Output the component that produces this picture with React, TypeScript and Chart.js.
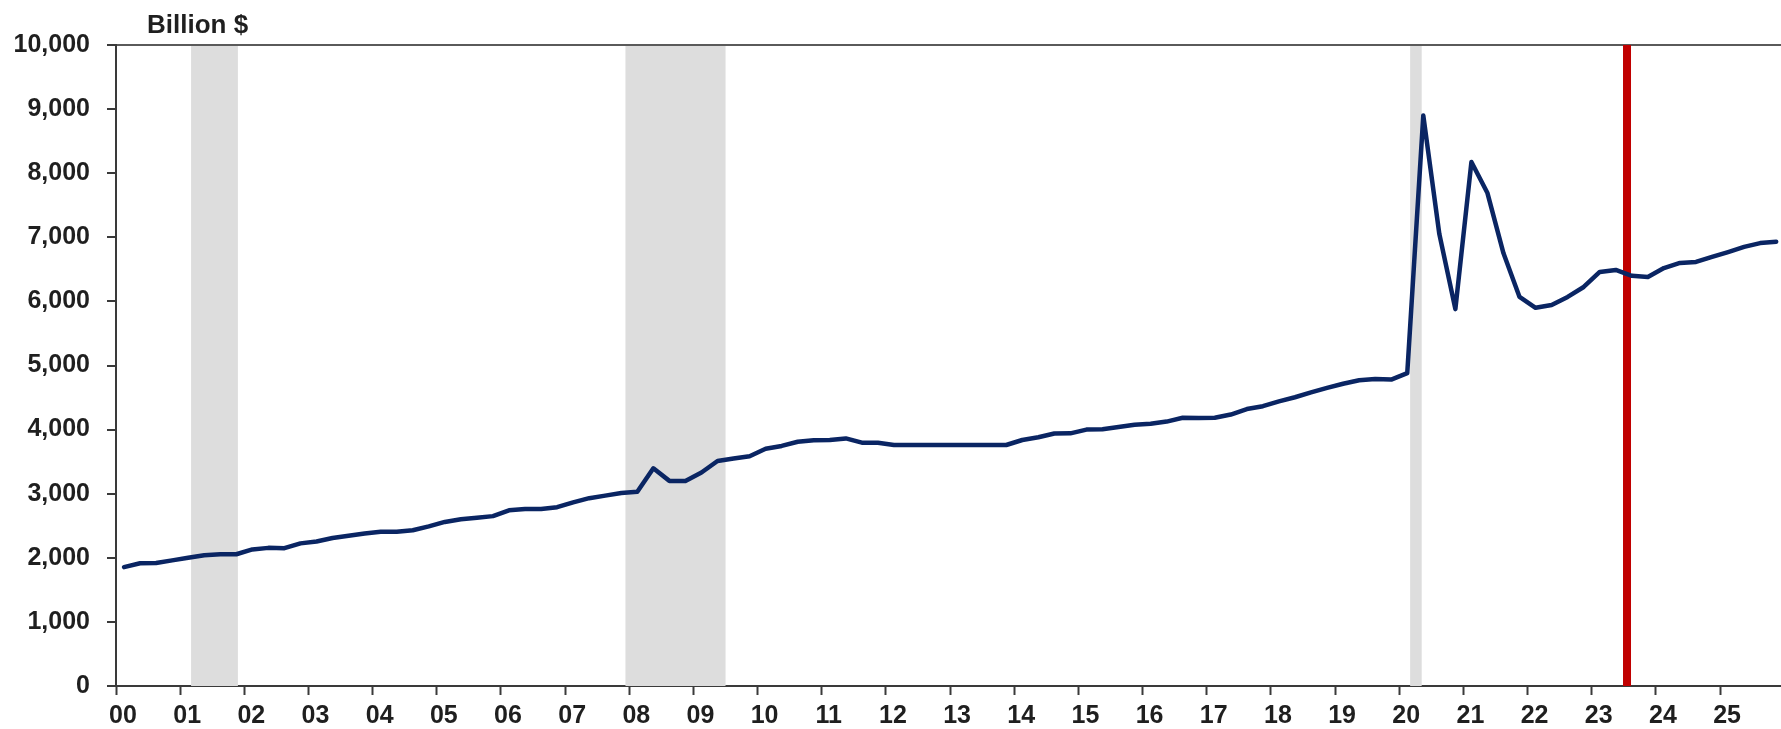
import React, { useEffect, useRef } from "react";
import { Chart, registerables } from "chart.js";

Chart.register(...registerables);

// Quarterly series, 2000Q1 through 2025Q4 (billions of dollars)
const firstYear = 2000;
const seriesValues: number[] = [
  1855, 1915, 1920, 1960, // 2000
  2000, 2040, 2055, 2055, // 2001
  2130, 2155, 2150, 2225, // 2002
  2255, 2310, 2345, 2380, // 2003
  2405, 2407, 2430, 2490, // 2004
  2560, 2600, 2625, 2650, // 2005
  2740, 2760, 2760, 2790, // 2006
  2865, 2930, 2970, 3010, // 2007
  3030, 3396, 3200, 3200, // 2008
  3330, 3510, 3550, 3585, // 2009
  3700, 3745, 3810, 3835, // 2010
  3838, 3862, 3796, 3796, // 2011
  3760, 3760, 3760, 3760, // 2012
  3760, 3760, 3760, 3760, // 2013
  3838, 3880, 3940, 3942, // 2014
  4000, 4005, 4040, 4075, // 2015
  4090, 4125, 4185, 4180, // 2016
  4186, 4235, 4320, 4365, // 2017
  4440, 4505, 4580, 4650, // 2018
  4715, 4770, 4790, 4780, // 2019
  4880, 8900, 7050, 5880, // 2020
  8175, 7690, 6750, 6070, // 2021
  5900, 5945, 6070, 6225, // 2022
  6460, 6490, 6400, 6380, // 2023
  6520, 6600, 6615, 6695, // 2024
  6770, 6850, 6910, 6930, // 2025
];

// Each quarter is plotted at its midpoint on a decimal-year axis
const quarterPositions: number[] = seriesValues.map(
  (_, i) => firstYear + Math.floor(i / 4) + ((i % 4) + 0.5) / 4
);

// Recession periods (decimal years)
const recessions: [number, number][] = [
  [2001.17, 2001.9],
  [2007.94, 2009.5],
  [2020.17, 2020.35],
];

// Vertical marker date
const markerDate = 2023.55;

const yTicks: number[] = [0, 1000, 2000, 3000, 4000, 5000, 6000, 7000, 8000, 9000, 10000];
const xTickYears: number[] = Array.from({ length: 26 }, (_, i) => firstYear + i);
const unitLabel = "Billion $";

const FONT = "'Liberation Sans', Arial, sans-serif";

const shadingPlugin = {
  id: "shading",
  beforeDatasetsDraw(chart: any) {
    const { ctx, chartArea, scales } = chart;
    const x = scales.x;
    ctx.save();
    ctx.fillStyle = "#dddddd";
    for (const [a, b] of recessions) {
      const x0 = x.getPixelForValue(a);
      const x1 = x.getPixelForValue(b);
      ctx.fillRect(x0, chartArea.top + 1, x1 - x0, chartArea.bottom - chartArea.top - 1);
    }
    const mx = x.getPixelForValue(markerDate);
    ctx.strokeStyle = "#c00000";
    ctx.lineWidth = 8;
    ctx.beginPath();
    ctx.moveTo(mx, chartArea.top);
    ctx.lineTo(mx, chartArea.bottom);
    ctx.stroke();
    ctx.restore();
  },
  afterDraw(chart: any) {
    const { ctx, chartArea } = chart;
    ctx.save();
    ctx.fillStyle = "#1f1f1f";
    ctx.font = `bold 26px ${FONT}`;
    ctx.textAlign = "left";
    ctx.textBaseline = "alphabetic";
    ctx.fillText(unitLabel, chartArea.left + 31, chartArea.top - 12);
    ctx.restore();
  },
};

export default function App() {
  const canvasRef = useRef<HTMLCanvasElement | null>(null);

  useEffect(() => {
    if (!canvasRef.current) return;
    Chart.defaults.font.family = FONT;
    const chart = new Chart(canvasRef.current, {
      type: "line",
      data: {
        datasets: [
          {
            data: seriesValues.map((v, i) => ({ x: quarterPositions[i], y: v })),
            borderColor: "#0a2563",
            borderWidth: 4.5,
            pointRadius: 0,
            tension: 0,
            borderJoinStyle: "round",
            borderCapStyle: "round",
          },
        ],
      },
      options: {
        animation: false,
        responsive: true,
        maintainAspectRatio: false,
        layout: { padding: { top: 45, left: 0, right: 0, bottom: 0 } },
        plugins: {
          legend: { display: false },
          title: { display: false },
          tooltip: { enabled: false },
        },
        scales: {
          x: {
            type: "linear",
            min: 2000,
            max: 2025.95,
            afterFit: (axis: any) => {
              axis.height = 43;
            },
            afterBuildTicks: (axis: any) => {
              axis.ticks = xTickYears.map((v) => ({ value: v }));
            },
            border: { display: true, color: "#3a3a3a", width: 2 },
            grid: {
              drawOnChartArea: false,
              drawTicks: true,
              tickLength: 9,
              tickColor: "#3a3a3a",
              tickWidth: 2,
            },
            ticks: {
              autoSkip: false,
              maxRotation: 0,
              padding: 6,
              labelOffset: 7,
              color: "#1f1f1f",
              font: { size: 25, weight: "bold" },
              callback: (v: any) => String(Number(v) % 100).padStart(2, "0"),
            },
          },
          y: {
            min: 0,
            max: 10000,
            afterFit: (axis: any) => {
              axis.width = 116;
            },
            afterBuildTicks: (axis: any) => {
              axis.ticks = yTicks.map((v) => ({ value: v }));
            },
            border: { display: true, color: "#3a3a3a", width: 2 },
            grid: {
              drawOnChartArea: true,
              drawTicks: true,
              tickLength: 9,
              tickColor: "#3a3a3a",
              tickWidth: 2,
              lineWidth: 2,
              color: (c: any) => (c.tick && c.tick.value === 10000 ? "#5a5a5a" : "rgba(0,0,0,0)"),
            },
            ticks: {
              padding: 17,
              color: "#1f1f1f",
              font: { size: 25, weight: "bold" },
              callback: (v: any) => Number(v).toLocaleString("en-US"),
            },
          },
        },
      },
      plugins: [shadingPlugin],
    });
    return () => chart.destroy();
  }, []);

  return (
    <div style={{ position: "fixed", left: 0, top: 0, width: 1781, height: 729, background: "#ffffff" }}>
      <canvas ref={canvasRef} />
    </div>
  );
}
